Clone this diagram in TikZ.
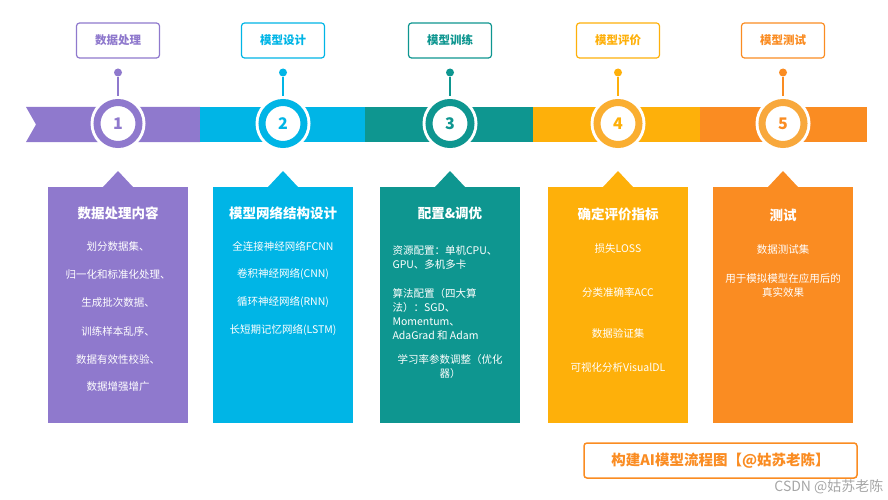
\documentclass[tikz,border=0pt]{standalone}
\usepackage{fontspec}
\setmainfont{Noto Sans CJK SC}
\usetikzlibrary{positioning}
\definecolor{cPurple}{HTML}{8F79CD}
\definecolor{cBlue}{HTML}{00B5E6}
\definecolor{cTeal}{HTML}{0E9690}
\definecolor{cAmber}{HTML}{FEB00A}
\definecolor{cOrange}{HTML}{FA8C22}
\definecolor{cRingA}{HTML}{FAAE30}
\definecolor{cRingB}{HTML}{F8A83C}
\newcommand{\fsz}[2]{\fontsize{#1}{#2}\selectfont}

\begin{document}
\begin{tikzpicture}
    [x=1pt, y=-1pt,
    lblbox/.style = {draw=#1, text=#1, fill=white, line width=1.2pt,
        rounded corners=3pt, minimum width=83pt, minimum height=35pt,
        inner sep=0pt, font=\fsz{11.5}{13}\bfseries},
    halo/.style = {circle, fill=white, minimum size=55pt, inner sep=0pt},
    ring/.style = {circle, draw=#1, fill=white, line width=7pt,
        minimum size=42pt, inner sep=0pt, font=\fsz{16}{16}\bfseries},
    dot/.style = {circle, fill=#1, minimum size=8pt, inner sep=0pt},
    card/.style = {fill=#1, minimum width=140pt, minimum height=236pt,
        inner sep=0pt, anchor=north},
    cardtitle/.style = {text=white, font=\fsz{13.5}{16}\bfseries},
    item/.style = {text=white, font=\fsz{10.5}{14}}]

    \useasboundingbox (0,0) rectangle (888,500);

    % ribbon
    \fill[cPurple] (26,107) -- (200,107) -- (200,142) -- (26,142)
        -- (36,124.5) -- cycle;
    \fill[cBlue]   (200,107) rectangle (365,142);
    \fill[cTeal]   (365,107) rectangle (533,142);
    \fill[cAmber]  (533,107) rectangle (700,142);
    \fill[cOrange] (700,107) rectangle (867,142);

    % stages: label, dot, circle, card
    \foreach \i/\x/\col/\rcol/\lbl in {1/118/cPurple/cPurple/数据处理,
            2/283/cBlue/cBlue/模型设计, 3/450/cTeal/cTeal/模型训练,
            4/618/cAmber/cRingA/模型评价, 5/783/cOrange/cRingB/模型测试} {
        \node[lblbox=\col] (lbl\i) at (\x,40.5) {\lbl};
        \node[dot=\col] (dot\i) at (\x,72.5) {};
        \node[halo] (halo\i) at (\x,123.5) {};
        \draw[\col, line width=1.6pt] (dot\i) -- (halo\i.north);
        \node[ring=\rcol, text=\col] (num\i) at (\x,123.5) {\i};
        \node[card=\col] (card\i) at (\x,187) {};
        \fill[\col] ([xshift=-15pt]card\i.north) -- ([yshift=16pt]card\i.north)
            -- ([xshift=15pt]card\i.north) -- cycle;
    }

    % card 1
    \node[cardtitle] (t1) at (118,213) {数据处理内容};
    \foreach \t [count=\k] in {划分数据集、, 归一化和标准化处理、, 生成批次数据、,
            训练样本乱序、, 数据有效性校验、, 数据增强增广}
        \node[item] (c1i\k) at (118,{219+28*\k}) {\t};

    % card 2
    \node[cardtitle] (t2) at (283,213) {模型网络结构设计};
    \foreach \t [count=\k] in {全连接神经网络FCNN, 卷积神经网络(CNN),
            循环神经网络(RNN), 长短期记忆网络(LSTM)}
        \node[item] (c2i\k) at (283,{218+28*\k}) {\t};

    % card 3
    \node[cardtitle] (t3) at (450,213) {配置\&调优};
    \node[item, align=left, anchor=west] (c3a) at (389,258)
        {资源配置：单机CPU、\\GPU、多机多卡};
    \node[item, align=left, anchor=west] (c3b) at (389,314)
        {算法配置（四大算\\法）：SGD、\\Momentum、\\AdaGrad 和 Adam};
    \node[item, align=center] (c3c) at (450,367)
        {学习率参数调整（优化\\器）};

    % card 4
    \node[cardtitle] (t4) at (618,214) {确定评价指标};
    \node[item] (c4a) at (618,249) {损失LOSS};
    \node[item] (c4b) at (618,292) {分类准确率ACC};
    \node[item] (c4c) at (618,333) {数据验证集};
    \node[item] (c4d) at (618,368) {可视化分析VisualDL};

    % card 5
    \node[cardtitle] (t5) at (783,215) {测试};
    \node[item] (c5a) at (783,250) {数据测试集};
    \node[item, align=center] (c5b) at (783,285)
        {用于模拟模型在应用后的\\真实效果};

    % footer
    \node[draw=cOrange, line width=1.5pt, rounded corners=3pt,
        minimum width=273pt, minimum height=35pt, text=cOrange,
        font=\fsz{14.5}{16}\bfseries] (title) at (720.5,460.5)
        {构建AI模型流程图【@姑苏老陈】};
    \node[text=black!35, font=\fsz{14}{14}, anchor=east] (mark) at (887,487)
        {CSDN @姑苏老陈};
\end{tikzpicture}
\end{document}
